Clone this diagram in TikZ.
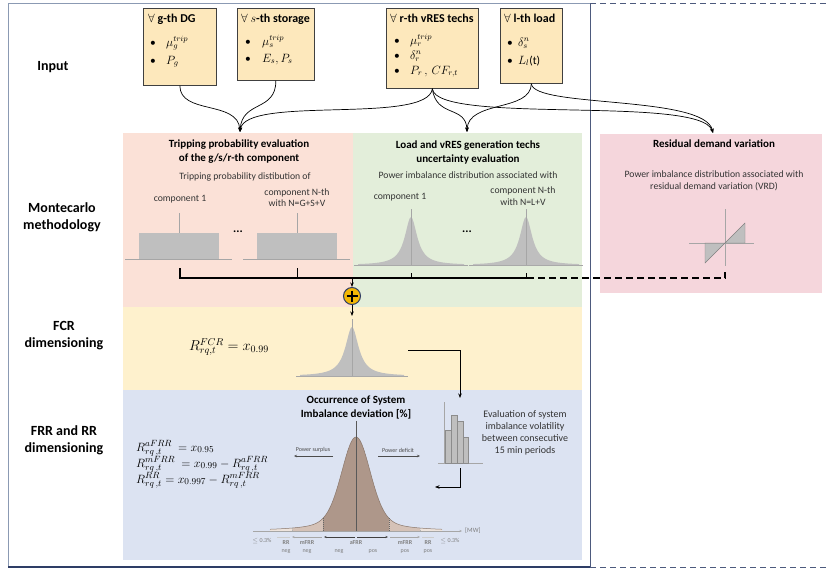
\documentclass[tikz,border=0pt]{standalone}
\usepackage{fontspec}
\setmainfont{Carlito}
\usepackage{amsmath}
\usetikzlibrary{arrows.meta,calc}
\definecolor{pinkbg}{HTML}{FBE1D7}
\definecolor{greenbg}{HTML}{E3EEDA}
\definecolor{yellowbg}{HTML}{FEF1CD}
\definecolor{bluebg}{HTML}{DCE3F2}
\definecolor{rosebg}{HTML}{F5D6DC}
\definecolor{inputfill}{HTML}{FDE8BC}
\definecolor{framecol}{HTML}{8B9AB3}
\definecolor{navy}{HTML}{2E3D66}
\definecolor{gold}{HTML}{F2B705}
\definecolor{distgray}{HTML}{BFBFBF}
\definecolor{axgray}{HTML}{A6A6A6}
\definecolor{afrrc}{HTML}{AE978A}
\definecolor{mfrrc}{HTML}{D5C2B7}
\definecolor{rrc}{HTML}{EEE4DD}
\definecolor{curvec}{HTML}{8A776B}
\definecolor{smalltxt}{HTML}{7F7F7F}
\pgfmathdeclarefunction{bigd}{1}{\pgfmathparse{94*(0.7*exp(-((#1)^2)/392)+0.3/(1+((#1)/22)^2))}}
\newcommand{\mybell}[5]{%
  \draw[axisc] (#1-#4-4,#2) -- (#1+#4+4,#2);
  \fill[distgray] (#1-#4,#2) -- plot[domain=-#4:#4,samples=81] ({#1+\x},{#2-#3/(1+(\x/#5)^2)}) -- (#1+#4,#2) -- cycle;
  \draw[axisc] (#1,#2-#3-8) -- (#1,#2);
}
\begin{document}
\begin{tikzpicture}[x=1pt,y=-1pt,
  lbl/.style={font=\fontsize{14}{17}\selectfont\bfseries, align=center},
  ttl/.style={font=\fontsize{11}{14}\selectfont\bfseries, align=center},
  txt/.style={font=\fontsize{9.7}{11.5}\selectfont, align=center, text=black!80},
  inbox/.style={draw=black!75, fill=inputfill, line width=0.7pt, anchor=north west, inner sep=0pt},
  boxt/.style={anchor=base west, font=\fontsize{12}{13}\selectfont, inner sep=0pt},
  boxm/.style={anchor=base west, font=\fontsize{11.5}{12}\selectfont, inner sep=0pt},
  frml/.style={anchor=base west, font=\fontsize{12.5}{15}\selectfont, inner sep=0pt},
  axisc/.style={draw=axgray, line width=0.4pt},
  conn/.style={-{Stealth[length=4.5pt,width=3.5pt]}, line width=0.7pt, draw=black},
  bus/.style={line width=1.3pt, draw=black},
  tiny/.style={font=\fontsize{6}{7}\selectfont, text=smalltxt, inner sep=0pt},
  tinyb/.style={font=\fontsize{6}{7}\selectfont\bfseries, text=smalltxt, inner sep=0pt}
]
\useasboundingbox (0,0) rectangle (826,573);

% backgrounds
\fill[pinkbg] (123,133) rectangle (353,307);
\fill[greenbg] (353,133) rectangle (582,307);
\fill[yellowbg] (123,307) rectangle (582,390);
\fill[bluebg] (123,390) rectangle (582,560);
\fill[rosebg] (600,134) rectangle (822,293);

% frame
\draw[framecol, line width=0.8pt] (590,3) -- (8,3) -- (8,567);
\draw[navy, line width=1.2pt] (8,567) -- (590,567);
\draw[navy!85, line width=1pt] (590,3) -- (590,567);
\draw[navy!85, line width=0.8pt, dash pattern=on 6pt off 4pt] (590,3) -- (826,3);
\draw[navy!85, line width=0.8pt, dash pattern=on 6pt off 4pt] (590,567) -- (826,567);

% left labels
\node[lbl] (linput) at (53,67) {Input};
\node[lbl] (lmc) at (62,217) {Montecarlo\\methodology};
\node[lbl] (lfcr) at (64,336) {FCR\\dimensioning};
\node[lbl] (lfrr) at (64,440) {FRR and RR\\dimensioning};

% input boxes
\node[inbox, minimum width=73pt, minimum height=77pt] (b1) at (143,8) {};
\node[inbox, minimum width=77pt, minimum height=72pt] (b2) at (237,8) {};
\node[inbox, minimum width=92pt, minimum height=80pt] (b3) at (386,8) {};
\node[inbox, minimum width=62pt, minimum height=75pt] (b4) at (500,8) {};

\node[boxt] (b1t) at (148,22) {$\forall$ \textbf{g-th DG}};
\node[boxm] (b1a) at (150,46) {\textbullet};
\node[boxm] (b1b) at (150,64) {\textbullet};
\node[boxm] (b1c) at (166,46) {$\mu_g^{trip}$};
\node[boxm] (b1d) at (166,64) {$P_g$};

\node[boxt] (b2t) at (241,22) {$\forall$ $s$\textbf{-th storage}};
\node[boxm] (b2a) at (245,45) {\textbullet};
\node[boxm] (b2b) at (245,62) {\textbullet};
\node[boxm] (b2c) at (262,45) {$\mu_s^{trip}$};
\node[boxm] (b2d) at (262,62) {$E_s, P_s$};

\node[boxt] (b3t) at (390,22) {$\forall$ $\mathbf{r}$\textbf{-th vRES techs}};
\node[boxm] (b3a) at (394,44) {\textbullet};
\node[boxm] (b3b) at (394,59) {\textbullet};
\node[boxm] (b3c) at (394,74) {\textbullet};
\node[boxm] (b3d) at (410,44) {$\mu_r^{trip}$};
\node[boxm] (b3e) at (410,59) {$\delta_r^n$};
\node[boxm] (b3f) at (410,74) {$P_r\,,\, CF_{r,t}$};

\node[boxt] (b4t) at (504,22) {$\forall$ $\mathbf{l}$\textbf{-th load}};
\node[boxm] (b4a) at (507,46) {\textbullet};
\node[boxm] (b4b) at (507,64) {\textbullet};
\node[boxm] (b4c) at (518,46) {$\delta_s^n$};
\node[boxm] (b4d) at (518,64) {$L_l$(t)};

% targets
\coordinate (tripin) at (240,132);
\coordinate (loadin) at (467,132);
\coordinate (resin) at (713,133);

\draw[conn] (b1.south) .. controls (180,115) and (238,100) .. (tripin);
\draw[conn] (b2.south) .. controls (276,112) and (242,100) .. (tripin);
\draw[conn] (b3.south) .. controls (428,125) and (245,95) .. (tripin);
\draw[conn] (b3.south) .. controls (436,118) and (466,105) .. (loadin);
\draw[conn] (b4.south) .. controls (531,112) and (468,100) .. (loadin);
\draw[conn] (b3.south) .. controls (436,125) and (700,95) .. (resin);
\draw[conn] (b4.south) .. controls (533,108) and (705,95) .. (resin);

% tripping region
\node[ttl] (trt) at (239,152) {Tripping probability evaluation\\of the g/s/r-th component};
\node[txt] (trs) at (245,177) {Tripping probability distibution of};
\node[txt] (trc1) at (180,199) {component 1};
\node[txt] (trcn) at (297,197.5) {component N-th\\with N=G+S+V};
\draw[axisc] (125,259) -- (232,259);
\draw[axisc] (179,213) -- (179,259);
\fill[distgray] (139,233) rectangle (219,259);
\draw[axisc] (243,259) -- (350,259);
\draw[axisc] (297,213) -- (297,259);
\fill[distgray] (257,233) rectangle (337,259);
\node[font=\bfseries\fontsize{12}{12}\selectfont, inner sep=0pt] (dots1) at (238,232) {...};

% green region
\node[ttl] (lvt) at (468,152) {Load and vRES generation techs\\uncertainty evaluation};
\node[txt] (lvs) at (468,175) {Power imbalance distribution associated with};
\node[txt] (lvc1) at (400,197) {component 1};
\node[txt] (lvcn) at (523,196) {component N-th\\with N=L+V};
\mybell{411}{265}{48}{53}{7.5}
\mybell{526}{265}{48}{53}{7.5}
\node[font=\bfseries\fontsize{12}{12}\selectfont, inner sep=0pt] (dots2) at (467,232) {...};

% residual region
\node[ttl] (rdt) at (714,144) {Residual demand variation};
\node[txt] (rds) at (714,181) {Power imbalance distribution associated with\\residual demand variation (VRD)};
\fill[distgray] (725,243) -- (705,263) -- (705,243) -- cycle;
\fill[distgray] (725,243) -- (745,223) -- (745,243) -- cycle;
\draw[axisc] (689,243) -- (754,243);
\draw[axisc] (725,209) -- (725,266);
\draw[draw=gray, line width=0.4pt] (725,243) -- (705,263) -- (705,243) -- cycle;
\draw[draw=gray, line width=0.4pt] (725,243) -- (745,223) -- (745,243) -- cycle;

% bus and sum
\coordinate (t1) at (180,268);
\coordinate (t2) at (297,268);
\coordinate (t3) at (411,273);
\coordinate (t4) at (526,273);
\coordinate (t5) at (725,272);
\coordinate (busj) at (352,278);
\draw[bus] (t1) -- (180,278) -- (527,278);
\draw[line width=1pt] (t2) -- (297,278);
\draw[line width=1pt] (t3) -- (411,278);
\draw[line width=1pt] (t4) -- (526,278);
\draw[line width=1.1pt, dash pattern=on 7pt off 4pt] (527,278) -- (725,278) -- (t5);
\node[circle, fill=gold, draw=navy, line width=1pt, minimum size=17pt, inner sep=0pt] (plus) at (352,296) {};
\draw[line width=2pt] ($(plus.center)+(-5.5,0)$) -- ($(plus.center)+(5.5,0)$);
\draw[line width=2pt] ($(plus.center)+(0,-5.5)$) -- ($(plus.center)+(0,5.5)$);
\draw[conn] (busj) -- (plus.north);
\coordinate (fcrtop) at (352,316);
\draw[conn] (plus.south) -- (fcrtop);

% FCR
\node[font=\fontsize{14}{15}\selectfont] (ffcr) at (229,347) {$R^{FCR}_{rq,t} = x_{0.99}$};
\mybell{352}{376}{49}{52}{8}
\coordinate (fcrr) at (408,350);
\coordinate (histtop) at (460,398);
\draw[conn] (fcrr) -- (460,350) -- (histtop);

% FRR and RR
\node[ttl] (occ) at (356,407) {Occurrence of System\\Imbalance deviation [\%]};
\node[frml] (f1) at (136,451) {$R^{aFRR}_{rq\,,t}\ = x_{0.95}$};
\node[frml] (f2) at (136,467) {$R^{mFRR}_{rq\,,t}\ = x_{0.99} - R^{aFRR}_{rq\,,t}$};
\node[frml] (f3) at (136,483) {$R^{RR}_{rq\,,t} = x_{0.997} - R^{mFRR}_{rq\,,t}$};

\fill[rrc] (270,531) -- plot[domain=-86:-64,samples=20] ({356+\x},{531-bigd(\x)}) -- (292,531) -- cycle;
\fill[rrc] (420,531) -- plot[domain=64:86,samples=20] ({356+\x},{531-bigd(\x)}) -- (442,531) -- cycle;
\fill[mfrrc] (292,531) -- plot[domain=-64:-33,samples=30] ({356+\x},{531-bigd(\x)}) -- (323,531) -- cycle;
\fill[mfrrc] (389,531) -- plot[domain=33:64,samples=30] ({356+\x},{531-bigd(\x)}) -- (420,531) -- cycle;
\fill[afrrc] (323,531) -- plot[domain=-33:33,samples=80] ({356+\x},{531-bigd(\x)}) -- (389,531) -- cycle;
\draw[curvec, line width=0.5pt] plot[domain=-86:86,samples=160] ({356+\x},{531-bigd(\x)});
\draw[black!60, line width=0.5pt, dash pattern=on 1pt off 1pt] (323,531) -- (323,{531-bigd(-33)});
\draw[black!60, line width=0.5pt, dash pattern=on 1pt off 1pt] (389,531) -- (389,{531-bigd(33)});
\draw[black!30, line width=0.4pt, dash pattern=on 1pt off 1pt] (292,531) -- (292,{531-bigd(-64)});
\draw[black!30, line width=0.4pt, dash pattern=on 1pt off 1pt] (420,531) -- (420,{531-bigd(64)});
\draw[black!65, line width=1pt] (356,421) -- (356,531);
\coordinate (axl) at (253,531);
\coordinate (axr) at (462,531);
\draw[axgray, line width=0.5pt, -{Stealth[length=2.5pt,width=2pt]}] (axl) -- (axr);
\node[tiny, anchor=west, font=\fontsize{6.5}{7}\selectfont] (mw) at (465,531) {[MW]};

\draw[black!70, line width=0.6pt, -{Stealth[length=3pt,width=2.5pt]}] (333,456) -- (294,456);
\draw[black!70, line width=0.6pt, -{Stealth[length=3pt,width=2.5pt]}] (378,456) -- (420,456);
\node[tiny, text=black!70] (psur) at (313,450) {Power surplus};
\node[tiny, text=black!70] (pdef) at (398,450) {Power deficit};

\draw[black!20, line width=0.5pt] (277,537) -- (290,537);
\draw[black!35, line width=0.5pt, -{Stealth[length=2.5pt,width=2pt]}] (322,537) -- (292,537);
\draw[black!75, line width=0.6pt, -{Stealth[length=2.5pt,width=2pt]}] (355,537) -- (324,537);
\draw[black!75, line width=0.6pt, -{Stealth[length=2.5pt,width=2pt]}] (357,537) -- (388,537);
\draw[black!35, line width=0.5pt, -{Stealth[length=2.5pt,width=2pt]}] (390,537) -- (420,537);
\draw[black!20, line width=0.5pt] (422,537) -- (434,537);

\node[tiny] (le1) at (262,541) {$\le$ 0.3\%};
\node[tiny] (le2) at (450,541) {$\le$ 0.3\%};
\node[tinyb] (rrn1) at (286,543) {RR};
\node[tinyb] (mfn1) at (307,543) {mFRR};
\node[tinyb] (af1) at (356,543) {aFRR};
\node[tinyb] (mfp1) at (405,543) {mFRR};
\node[tinyb] (rrp1) at (428,543) {RR};
\node[tiny] (rrn2) at (286,552) {neg};
\node[tiny] (mfn2) at (307,552) {neg};
\node[tiny] (afn) at (339,552) {neg};
\node[tiny] (afp) at (373,552) {pos};
\node[tiny] (mfp2) at (405,552) {pos};
\node[tiny] (rrp2) at (428,552) {pos};

% histogram
\draw[axisc] (444,402) -- (444,463);
\draw[axisc] (438,463) -- (483,463);
\foreach \xa/\xb/\yt in {445/451/430, 451/457/415, 457/463/421, 463/468/437}{
  \filldraw[fill=distgray, draw=black!45, line width=0.4pt] (\xa,\yt) rectangle (\xb,463);
}
\coordinate (histb) at (460,468);
\coordinate (bigin) at (435,487);
\draw[conn] (histb) -- (460,487) -- (bigin);
\node[txt, font=\fontsize{10}{12}\selectfont] (evl) at (525,433) {Evaluation of system\\imbalance volatility\\between consecutive\\15 min periods};

\end{tikzpicture}
\end{document}
